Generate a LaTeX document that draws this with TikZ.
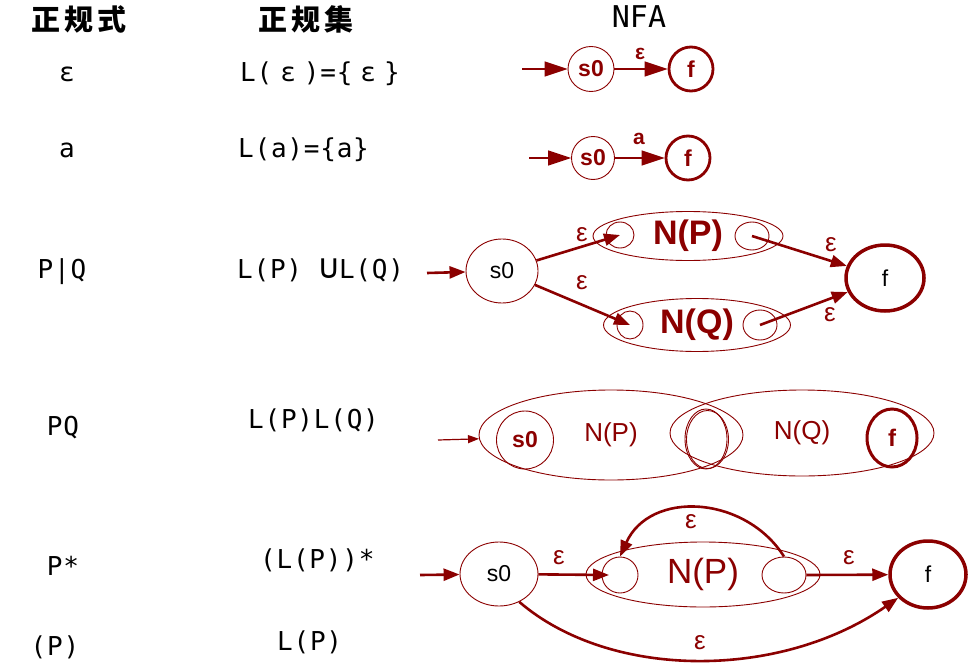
\documentclass[tikz,border=0pt]{standalone}
\usepackage{fontspec}
\setmainfont{Liberation Sans}
\newfontfamily\mono{DejaVu Sans Mono}[LetterSpace=3]
\newfontfamily\monoh{DejaVu Sans Mono}
\newfontfamily\cjk{Noto Sans CJK SC}
\usetikzlibrary{shapes.geometric,arrows.meta}
\definecolor{dred}{RGB}{139,0,0}
\newcommand{\myfs}[1]{\fontsize{#1}{#1}\selectfont}
\begin{document}
\begin{tikzpicture}[x=1pt,y=-1pt,
  sz/.style 2 args={minimum width=#1pt,minimum height=#2pt},
  st/.style={ellipse,draw=dred,line width=0.9pt,inner sep=0pt,text=dred},
  fin/.style={st,line width=3.2pt},
  coltxt/.style={inner sep=0pt,font=\mono\myfs{26}},
  hdr/.style={inner sep=0pt,font=\cjk\bfseries\myfs{29}},
  thinar/.style={draw=dred,line width=1.2pt,-{Triangle[length=23pt,width=15pt]}},
  smallar/.style={draw=dred,line width=1.2pt,-{Triangle[length=11pt,width=8pt]}},
  thickar/.style={draw=dred,line width=2.6pt,-{Triangle[length=16pt,width=12pt]}},
  lab/.style={inner sep=0pt,text=dred,font=\myfs{26}},
  blab/.style={inner sep=0pt,text=dred,font=\bfseries\myfs{21}}]
\useasboundingbox (0,0) rectangle (968,666);

% headers
\node[hdr] (h1) at (79,19) {正\hspace{4pt}规\hspace{4pt}式};
\node[hdr] (h2) at (306,19) {正\hspace{4pt}规\hspace{4pt}集};
\node[inner sep=0pt,font=\monoh\myfs{30}] (h3) at (639,17) {NFA};

% column 1
\node[coltxt,anchor=base] (r1) at (67,82) {ε};
\node[coltxt,anchor=base] (r2) at (67,157) {a};
\node[coltxt,anchor=base] (r3) at (62,278) {P|Q};
\node[coltxt,anchor=base] (r4) at (63,435) {PQ};
\node[coltxt,anchor=base] (r5) at (63,575) {P*};
\node[coltxt,anchor=base] (r6) at (55,655) {(P)};

% column 2
\node[coltxt,anchor=base west] (s1) at (240,82) {L(\hspace{8pt}ε\hspace{8pt})=\{\hspace{8pt}ε\hspace{8pt}\}};
\node[coltxt,anchor=base west] (s2) at (238,157) {L(a)=\{a\}};
\node[coltxt,anchor=base west] (s3) at (237,278) {L(P) {\myfs{34}∪}L(Q)};
\node[coltxt,anchor=base west] (s4) at (248,428) {L(P)L(Q)};
\node[coltxt,anchor=base west] (s5) at (260,568) {(L(P))*};
\node[coltxt,anchor=base west] (s6) at (277,650) {L(P)};

% row 1: epsilon
\coordinate (ain) at (522,69);
\node[st,sz={46}{45},font=\bfseries\myfs{23}] (a0) at (591,69) {s0};
\node[fin,sz={44}{44},line width=2.8pt,font=\bfseries\myfs{23}] (a1) at (691,69) {f};
\draw[thinar] (ain) -- (a0);
\draw[thinar] (a0) -- (a1);
\node[blab] (ae) at (640,54) {ε};

% row 2: a
\coordinate (bin2) at (529,158);
\node[st,sz={43}{43},font=\bfseries\myfs{23}] (c0) at (593,158) {s0};
\node[fin,sz={44}{44},line width=2.8pt,font=\bfseries\myfs{23}] (c1) at (688,158) {f};
\draw[thinar] (bin2) -- (c0);
\draw[thinar] (c0) -- (c1);
\node[blab] (ce) at (639,139) {a};

% row 3: P|Q
\coordinate (bin) at (427,273);
\node[st,sz={72}{64},text=black,font=\myfs{23}] (b0) at (502,271) {s0};
\node[fin,sz={78}{66},line width=3.5pt,text=black,font=\myfs{23}] (b1) at (885,278) {f};
\node[st,sz={190}{49},font=\bfseries\myfs{34}] (bP) at (688,236) {N(P)};
\node[st,sz={187}{53},font=\bfseries\myfs{34}] (bQ) at (697,325) {N(Q)};
\node[st,sz={28}{26}] (bPl) at (620,235) {};
\node[st,sz={34}{28}] (bPr) at (752,236) {};
\node[st,sz={26}{28}] (bQl) at (630,325) {};
\node[st,sz={34}{30}] (bQr) at (760,325) {};
\draw[thickar] (bin) -- (b0);
\draw[thickar] (b0) -- (bPl.center);
\draw[thickar] (b0) -- (bQl.center);
\draw[thickar] (bPr.center) -- (b1);
\draw[thickar] (bQr.center) -- (b1);
\node[lab] (be1) at (582,235) {ε};
\node[lab] (be2) at (582,283) {ε};
\node[lab] (be3) at (831,245) {ε};
\node[lab] (be4) at (830,315) {ε};

% row 4: PQ
\coordinate (din4) at (438,440);
\node[st,sz={264}{90},font=\myfs{26}] (eP) at (611,435) {N(P)};
\node[st,sz={264}{86},font=\myfs{26}] (eQ) at (802,433) {N(Q)};
\node[st,sz={57}{58},font=\bfseries\myfs{23}] (e0) at (525,440) {s0};
\node[st,sz={42}{60}] (em1) at (706,439) {};
\node[st,sz={42}{58}] (em2) at (707.5,439.5) {};
\node[fin,sz={50}{58},line width=3pt,font=\bfseries\myfs{24}] (ef) at (892,438) {f};
\draw[smallar] (din4) -- (eP);

% row 5: P*
\coordinate (din) at (420,575);
\node[st,sz={78}{64},text=black,font=\myfs{23}] (d0) at (499,574) {s0};
\node[st,sz={234}{65},font=\myfs{35}] (dP) at (703,574.5) {N(P)};
\node[st,sz={36}{36}] (dPl) at (620,575) {};
\node[st,sz={44}{36}] (dPr) at (784,575) {};
\node[fin,sz={76}{67},line width=3.5pt,text=black,font=\myfs{23}] (df) at (928,574.5) {f};
\draw[thickar] (din) -- (d0);
\draw[thickar] (d0) -- ([xshift=-11pt]dPl.center);
\draw[thickar] (dPr.east) -- (df);
\draw[thickar] (dPr.north) .. controls (745,495) and (650,490) .. (dPl.north);
\draw[thickar] (d0.306) .. controls (610,680) and (780,680) .. (df.218);
\node[lab] (de1) at (559,558) {ε};
\node[lab] (de2) at (849,558) {ε};
\node[lab] (de3) at (691,522) {ε};
\node[lab] (de4) at (700,643) {ε};
\end{tikzpicture}
\end{document}
